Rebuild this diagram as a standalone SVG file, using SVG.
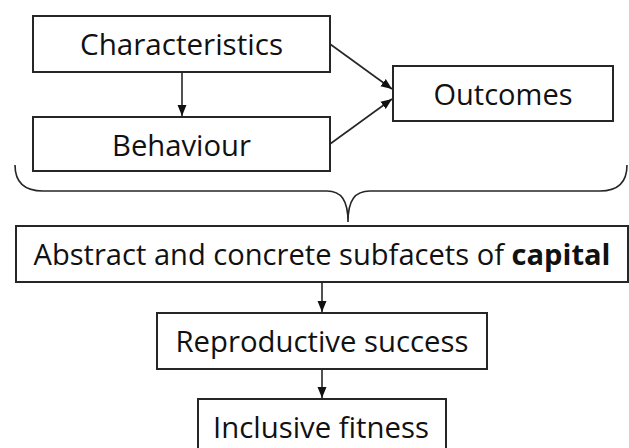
<svg xmlns="http://www.w3.org/2000/svg" width="629" height="448" viewBox="0 0 629 448">
<style>
.box{fill:#fff;stroke:#262626;stroke-width:2}
.lbl{font-family:"Open Sans","Liberation Sans",sans-serif;font-size:29px;fill:#111;text-anchor:middle}
.con{fill:none;stroke:#262626;stroke-width:1.6}
</style>
<defs>
<marker id="ah" markerUnits="userSpaceOnUse" markerWidth="12" markerHeight="12" viewBox="0 0 12 12" refX="11" refY="6" orient="auto">
<path d="M0,1.5 L11,6 L0,10.5 Z" fill="#111"/>
</marker>
</defs>
<rect width="629" height="448" fill="#fff"/>
<g id="characteristics">
<rect class="box" x="33" y="16" width="297" height="56"/>
<text class="lbl" x="181.5" y="55" textLength="203" lengthAdjust="spacingAndGlyphs">Characteristics</text>
</g>
<g id="behaviour">
<rect class="box" x="33" y="117" width="297" height="54"/>
<text class="lbl" x="181.5" y="155.5" textLength="139" lengthAdjust="spacingAndGlyphs">Behaviour</text>
</g>
<g id="outcomes">
<rect class="box" x="393" y="66" width="220" height="55"/>
<text class="lbl" x="503" y="105" textLength="139" lengthAdjust="spacingAndGlyphs">Outcomes</text>
</g>
<g id="capital">
<rect class="box" x="16" y="226" width="612" height="56"/>
<text class="lbl" x="322" y="265" textLength="577" lengthAdjust="spacingAndGlyphs">Abstract and concrete subfacets of <tspan font-weight="bold">capital</tspan></text>
</g>
<g id="reproductive">
<rect class="box" x="157" y="313" width="330" height="56"/>
<text class="lbl" x="322" y="352" textLength="293" lengthAdjust="spacingAndGlyphs">Reproductive success</text>
</g>
<g id="inclusive">
<rect class="box" x="198" y="399" width="248" height="60"/>
<text class="lbl" x="321" y="437.5" textLength="216" lengthAdjust="spacingAndGlyphs">Inclusive fitness</text>
</g>
<g id="connectors">
<line class="con" x1="182" y1="72" x2="182" y2="116" marker-end="url(#ah)"/>
<line class="con" x1="330" y1="44" x2="392" y2="89" marker-end="url(#ah)"/>
<line class="con" x1="330" y1="144" x2="392" y2="99" marker-end="url(#ah)"/>
<line class="con" x1="322" y1="282" x2="322" y2="312" marker-end="url(#ah)"/>
<line class="con" x1="322" y1="369" x2="322" y2="398" marker-end="url(#ah)"/>
<path class="con" d="M15,165 Q15,191 43,191 L327,191 C341,191 348,200 348,222 C348,200 355,191 370,191 L600,191 Q627,191 627,165"/>
</g>
</svg>
